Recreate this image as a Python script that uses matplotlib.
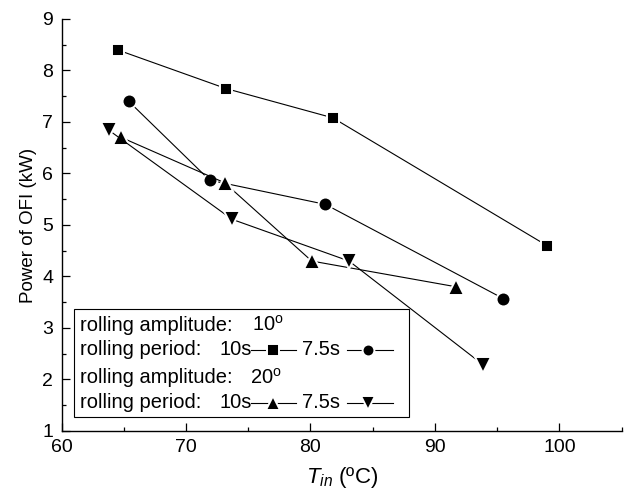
# Power of OFI vs inlet temperature for two rolling amplitudes / periods

import matplotlib
matplotlib.use("Agg")
import matplotlib.pyplot as plt
from matplotlib.lines import Line2D
from matplotlib.patches import Rectangle

plt.rcParams["font.family"] = ["Liberation Sans", "DejaVu Sans"]
plt.rcParams["mathtext.fontset"] = "custom"
plt.rcParams["mathtext.rm"] = "Liberation Sans"
plt.rcParams["mathtext.it"] = "Liberation Sans:italic"

# amplitude 10 deg, period 10 s (squares)
sq_x = [64.5, 73.2, 81.8, 99.0]
sq_y = [8.40, 7.65, 7.08, 4.60]
# amplitude 10 deg, period 7.5 s (circles)
ci_x = [65.4, 71.9, 81.2, 95.5]
ci_y = [7.40, 5.87, 5.40, 3.57]
# amplitude 20 deg, period 10 s (up triangles)
tu_x = [64.8, 73.1, 80.1, 91.7]
tu_y = [6.70, 5.82, 4.30, 3.80]
# amplitude 20 deg, period 7.5 s (down triangles)
td_x = [63.8, 73.7, 83.1, 93.9]
td_y = [6.84, 5.11, 4.30, 2.28]

series = [
    (sq_x, sq_y, "s", 8.5),
    (ci_x, ci_y, "o", 10),
    (tu_x, tu_y, "^", 11.5),
    (td_x, td_y, "v", 11.5),
]

fig = plt.figure(figsize=(6.33, 4.92), dpi=100)
ax = fig.add_axes([0.0973, 0.124, 0.8847, 0.8374])

for xs, ys, m, ms in series:
    ax.plot(xs, ys, color="black", lw=0.8, marker=m, ms=ms,
            mfc="black", mec="white", mew=1.4)

ax.set_xlim(60, 105)
ax.set_ylim(1, 9)
ax.set_xticks([60, 70, 80, 90, 100])
ax.set_xticks([65, 75, 85, 95, 105], minor=True)
ax.set_yticks(range(1, 10))
ax.set_yticks([1.5 + i for i in range(8)], minor=True)

for side in ["top", "right"]:
    ax.spines[side].set_visible(False)
for side in ["left", "bottom"]:
    ax.spines[side].set_linewidth(1.0)

ax.tick_params(which="major", direction="in", length=6, width=0.9,
               labelsize=14, pad=6)
ax.tick_params(which="minor", direction="in", length=3, width=0.9)

ax.set_ylabel("Power of OFI (kW)", fontsize=13.5, labelpad=4)
ax.set_xlabel("$T_{in}$ (ºC)", fontsize=16, labelpad=6)

# legend box drawn by hand (Origin style)
ax.add_patch(Rectangle((0.022, 0.034), 0.598, 0.262, transform=ax.transAxes,
                       fill=False, edgecolor="black", lw=0.8, zorder=5))

fs = 14.5
tx = 0.033
rows_y = [0.257, 0.197, 0.129, 0.068]


def txt(x, y, s):
    ax.text(x, y, s, transform=ax.transAxes, fontsize=fs, va="center")


txt(tx, rows_y[0], "rolling amplitude:")
txt(0.3394, rows_y[0], "10$^{\\mathrm{o}}$")
txt(tx, rows_y[2], "rolling amplitude:")
txt(0.3367, rows_y[2], "20$^{\\mathrm{o}}$")


def legend_row(y, m1, m2, ms):
    txt(tx, y, "rolling period:")
    txt(0.2816, y, "10s")
    txt(0.4287, y, "7.5s")
    for x0, x1, xm, m in [(0.3377, 0.4186, 0.378, m1),
                          (0.5090, 0.5911, 0.5476, m2)]:
        ax.add_line(Line2D([x0, x1], [y, y], transform=ax.transAxes,
                           color="black", lw=0.8, zorder=6))
        ax.add_line(Line2D([xm], [y], transform=ax.transAxes, marker=m,
                           ms=ms, mfc="black", mec="white", mew=1.4,
                           color="black", zorder=7))


legend_row(rows_y[1], "s", "o", 8.5)
legend_row(rows_y[3], "^", "v", 10)

fig.savefig("out.png", dpi=100)
